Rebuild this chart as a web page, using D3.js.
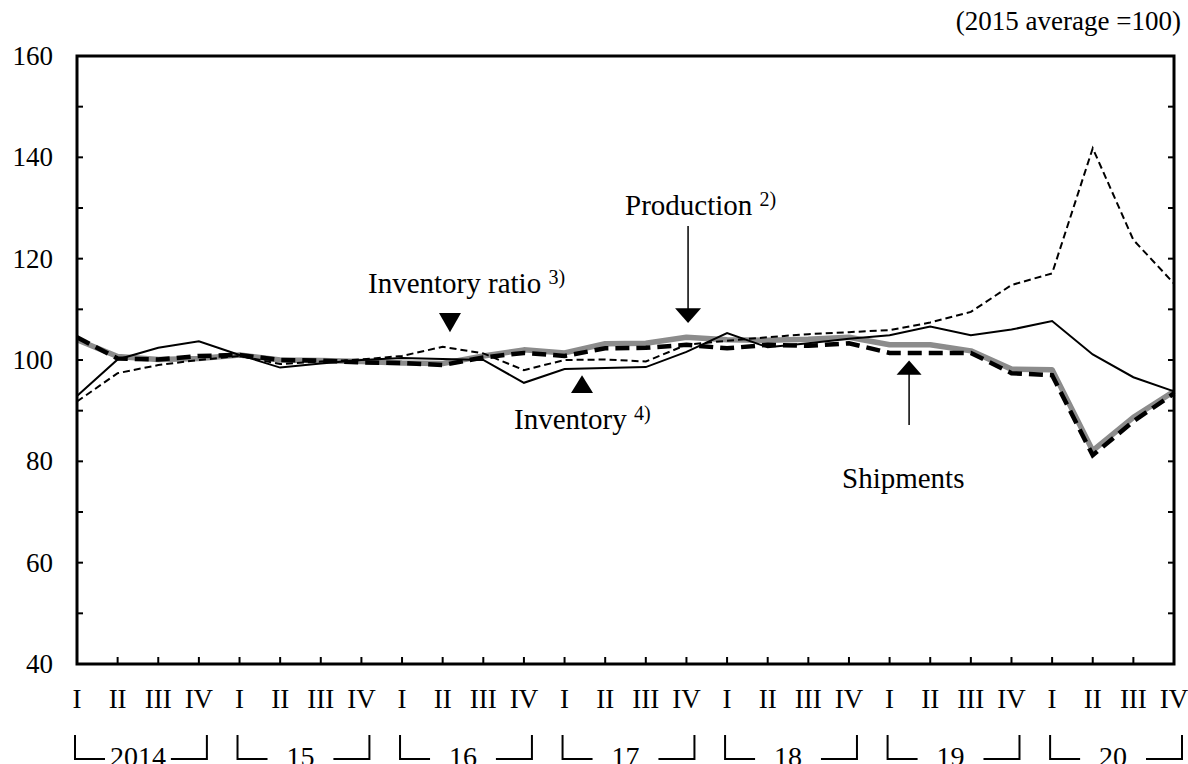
<!DOCTYPE html>
<html>
<head>
<meta charset="utf-8">
<script src="https://cdn.jsdelivr.net/npm/d3@7"></script>
<style>
body { margin: 0; background: #fff; }
text { font-family: "Liberation Serif", "Times New Roman", serif; fill: #000; }
</style>
</head>
<body>
<div id="graph"></div>
<script>
var quarters = 'I II III IV'.split(' ')
var years = ['2014', '15', '16', '17', '18', '19', '20']
var yTicks = [40, 60, 80, 100, 120, 140, 160]

// 2014 Q1 .. 2020 Q4, 2015 average = 100
var production = [104.0, 100.7, 100.1, 100.3, 101.0, 100.0, 99.9, 99.7, 99.4, 99.3,
  100.8, 102.0, 101.4, 103.2, 103.3, 104.5, 104.0, 103.9, 104.1, 104.5,
  103.0, 103.0, 101.8, 98.2, 98.1, 82.1, 88.7, 93.8]
var shipments = [104.5, 100.3, 100.1, 100.8, 101.0, 100.0, 99.9, 99.5, 99.4, 99.0,
  100.5, 101.4, 100.8, 102.3, 102.4, 103.0, 102.3, 103.0, 102.8, 103.3,
  101.4, 101.4, 101.4, 97.4, 97.0, 81.2, 87.9, 93.4]
var inventory = [92.9, 100.1, 102.4, 103.7, 101.0, 98.5, 99.3, 100.0, 100.4, 100.2,
  100.0, 95.5, 98.2, 98.4, 98.6, 101.6, 105.3, 102.5, 103.3, 104.2,
  104.9, 106.6, 104.9, 106.0, 107.7, 101.1, 96.6, 93.8]
var inventoryRatio = [91.8, 97.4, 99.0, 100.0, 100.8, 99.2, 99.7, 100.1, 100.8, 102.6,
  101.3, 98.0, 100.0, 100.1, 99.7, 103.0, 103.8, 104.5, 105.1, 105.5,
  105.9, 107.4, 109.5, 114.8, 117.1, 141.8, 123.7, 115.1]

var W = 1188, H = 764
var m = {left: 77, right: 1174, top: 56, bottom: 664}

var svg = d3.select('#graph').append('svg')
  .attr('width', W).attr('height', H)

var n = production.length
var x = d3.scaleLinear().domain([0, n - 1]).range([m.left, m.right])
var y = d3.scaleLinear().domain([40, 160]).range([m.bottom, m.top])

// ticks inside the frame
var g = svg.append('g').attr('stroke', '#000').attr('stroke-width', 2)
d3.range(40, 161, 10).forEach(v => {
  g.append('line').attr('x1', m.left).attr('x2', m.left + 6).attr('y1', y(v)).attr('y2', y(v))
  g.append('line').attr('x1', m.right).attr('x2', m.right - 6).attr('y1', y(v)).attr('y2', y(v))
})
d3.range(1, n - 1).forEach(i => {
  g.append('line').attr('x1', x(i)).attr('x2', x(i)).attr('y1', m.bottom).attr('y2', m.bottom - 7)
})

svg.selectAll('.ylab').data(yTicks).enter().append('text')
  .attr('x', 53).attr('y', d => y(d) + 9)
  .attr('text-anchor', 'end').attr('font-size', 27)
  .text(d => d)

svg.selectAll('.qlab').data(d3.range(n)).enter().append('text')
  .attr('x', d => x(d)).attr('y', 708)
  .attr('text-anchor', 'middle').attr('font-size', 27)
  .text(d => quarters[d % 4])

// year brackets  └─ 2014 ─┘
years.forEach((yr, k) => {
  var x0 = x(4*k) - 2, x1 = x(4*k + 3) + 8
  var by = 759
  svg.append('path')
    .attr('d', `M${x0},735V${by}H${x0 + 30}M${x1 - 36},${by}H${x1}V735`)
    .attr('fill', 'none').attr('stroke', '#000').attr('stroke-width', 2)
  svg.append('text')
    .attr('x', (x(4*k) + x(4*k + 3))/2).attr('y', 766)
    .attr('text-anchor', 'middle').attr('font-size', 28)
    .text(yr)
})

var line = d3.line().x((d, i) => x(i)).y(d => y(d))

svg.append('path').datum(production).attr('d', line)
  .attr('fill', 'none').attr('stroke', '#8c8c8c').attr('stroke-width', 5.5)
  .attr('stroke-linejoin', 'round')
svg.append('path').datum(shipments).attr('d', line)
  .attr('fill', 'none').attr('stroke', '#000').attr('stroke-width', 4.5)
  .attr('stroke-dasharray', '14,7')
svg.append('path').datum(inventory).attr('d', line)
  .attr('fill', 'none').attr('stroke', '#000').attr('stroke-width', 2)
svg.append('path').datum(inventoryRatio).attr('d', line)
  .attr('fill', 'none').attr('stroke', '#000').attr('stroke-width', 2)
  .attr('stroke-dasharray', '7,4')

// frame
svg.append('rect')
  .attr('x', m.left).attr('y', m.top).attr('width', m.right - m.left).attr('height', m.bottom - m.top)
  .attr('fill', 'none').attr('stroke', '#000').attr('stroke-width', 3)

svg.append('text').attr('x', 1181).attr('y', 30)
  .attr('text-anchor', 'end').attr('font-size', 27)
  .text('(2015 average =100)')

// annotations
function tri(cx, tip, base, hw) {
  return `M${cx - hw},${base}L${cx + hw},${base}L${cx},${tip}Z`
}
function label(t, sup, lx, ly) {
  var el = svg.append('text').attr('x', lx).attr('y', ly).attr('font-size', 29)
  el.append('tspan').text(t + ' ')
  if (sup) el.append('tspan').attr('dy', -9).attr('font-size', 20).text(sup)
}

// inventory ratio
svg.append('path').attr('d', tri(x(9.18), y(105.5), y(109.3), 11))
label('Inventory ratio', '3)', 368, 293)

// production
svg.append('line').attr('x1', x(15.04)).attr('x2', x(15.04)).attr('y1', 226).attr('y2', y(108))
  .attr('stroke', '#000').attr('stroke-width', 1.5)
svg.append('path').attr('d', tri(x(15.04), y(107.3), y(110.2), 13))
label('Production', '2)', 625, 215)

// inventory
svg.append('path').attr('d', tri(x(12.43), y(97.0), y(93.5), 11))
label('Inventory', '4)', 514, 429)

// shipments
svg.append('line').attr('x1', x(20.48)).attr('x2', x(20.48)).attr('y1', y(97.5)).attr('y2', 425)
  .attr('stroke', '#000').attr('stroke-width', 1.5)
svg.append('path').attr('d', tri(x(20.48), y(99.9), y(97.1), 12.5))
label('Shipments', null, 842, 488)
</script>
</body>
</html>
